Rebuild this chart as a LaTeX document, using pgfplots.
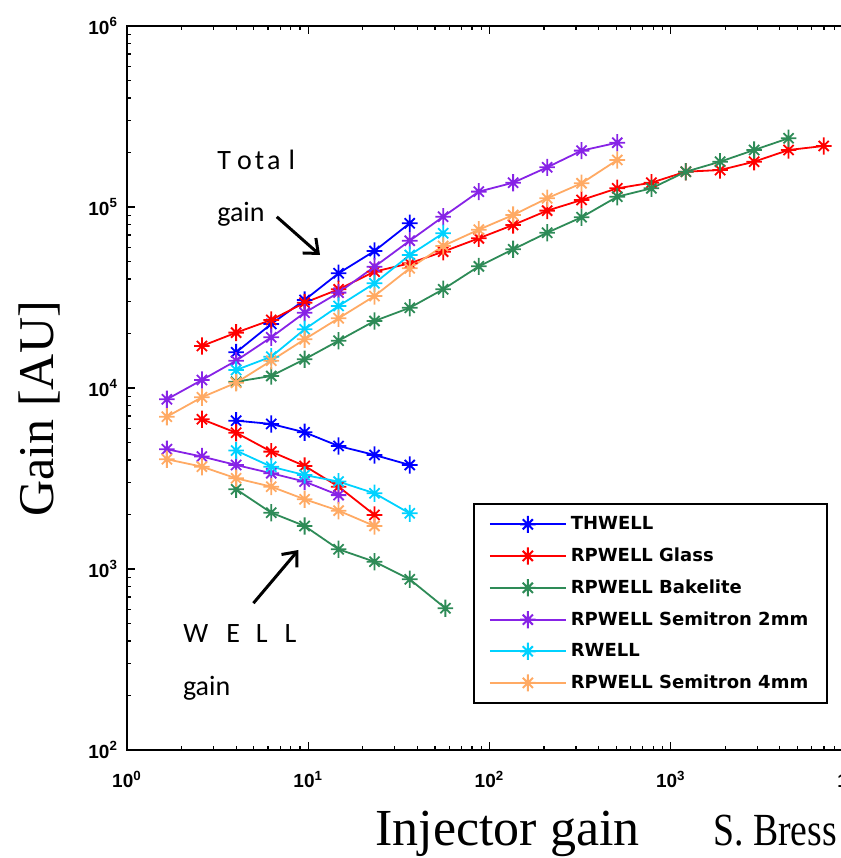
\documentclass[border=0pt]{standalone}
\usepackage{pgfplots}
\pgfplotsset{compat=1.18}
\usepackage{pgfplotstable}
\usepackage{fontspec}
\setmainfont{Liberation Serif}
\newfontfamily\arialfont{Liberation Sans}
\newfontfamily\legfont{DejaVu Sans}
\newfontfamily\calib{Carlito}
\usetikzlibrary{arrows.meta}

\definecolor{cthw}{RGB}{0,0,255}
\definecolor{cgla}{RGB}{255,0,0}
\definecolor{cbak}{RGB}{46,139,87}
\definecolor{csem}{RGB}{135,35,230}
\definecolor{crw}{RGB}{0,210,255}
\definecolor{csem4}{RGB}{255,170,100}

\pgfdeclareplotmark{ast8}{%
  \pgfpathmoveto{\pgfpoint{-\pgfplotmarksize}{0pt}}%
  \pgfpathlineto{\pgfpoint{\pgfplotmarksize}{0pt}}%
  \pgfpathmoveto{\pgfpoint{0pt}{-1.1\pgfplotmarksize}}%
  \pgfpathlineto{\pgfpoint{0pt}{1.1\pgfplotmarksize}}%
  \pgfpathmoveto{\pgfpoint{-.65\pgfplotmarksize}{-.65\pgfplotmarksize}}%
  \pgfpathlineto{\pgfpoint{.65\pgfplotmarksize}{.65\pgfplotmarksize}}%
  \pgfpathmoveto{\pgfpoint{-.65\pgfplotmarksize}{.65\pgfplotmarksize}}%
  \pgfpathlineto{\pgfpoint{.65\pgfplotmarksize}{-.65\pgfplotmarksize}}%
  \pgfusepathqstroke}

% ---------- data ----------
\pgfplotstableread{
x y
4.00 15740
6.25 22580
9.55 30630
14.7 43030
23.2 57130
36.3 81300
}\thwT
\pgfplotstableread{
x y
4.00 6600
6.25 6330
9.55 5690
14.7 4780
23.2 4265
36.3 3755
}\thwW
\pgfplotstableread{
x y
2.59 17060
4.00 20220
6.25 23770
9.55 29590
14.7 35090
23.2 43930
36.3 48850
55.5 56640
87.3 67140
135 79570
208 95450
322 109300
507 126800
782 136200
1211 156700
1871 160000
2884 177900
4467 206500
6982 217300
}\glaT
\pgfplotstableread{
x y
2.59 6720
4.00 5660
6.25 4450
9.55 3710
14.7 2850
23.2 1990
}\glaW
\pgfplotstableread{
x y
4.00 10830
6.25 11650
9.55 14410
14.7 18250
23.2 23450
36.3 27740
55.5 35090
87.3 47000
135 58360
208 72100
322 87730
507 114000
782 126800
1211 156700
1871 177900
2884 206500
4467 239800
}\bakT
\pgfplotstableread{
x y
4.00 2755
6.25 2047
9.55 1728
14.7 1285
23.2 1097
36.3 877
57.1 607
}\bakW
\pgfplotstableread{
x y
1.66 8660
2.59 11070
4.00 14150
6.25 19060
9.55 26060
14.7 33640
23.2 46770
36.3 65100
55.5 88400
87.3 121600
135 136200
208 165600
322 204800
507 226600
}\semT
\pgfplotstableread{
x y
1.66 4590
2.59 4180
4.00 3755
6.25 3380
9.55 3040
14.7 2560
}\semW
\pgfplotstableread{
x y
4.00 12570
6.25 14890
9.55 21100
14.7 28380
23.2 37870
36.3 54300
55.5 71600
}\rwT
\pgfplotstableread{
x y
4.00 4510
6.25 3675
9.55 3305
14.7 3040
23.2 2620
36.3 2030
}\rwW
\pgfplotstableread{
x y
1.66 6940
2.59 8890
4.00 10690
6.25 14150
9.55 18580
14.7 24270
23.2 32210
36.3 45840
55.5 60920
87.3 74950
135 90300
208 111700
322 135200
507 181900
}\semfT
\pgfplotstableread{
x y
1.66 4040
2.59 3675
4.00 3170
6.25 2850
9.55 2427
14.7 2100
23.2 1728
}\semfW

\newcommand{\tl}[1]{10\textsuperscript{#1}}

\begin{document}
\begin{tikzpicture}
\useasboundingbox (0,0) rectangle (420.5pt,429pt);
\begin{axis}[
  at={(63.5pt,54pt)}, anchor=south west,
  scale only axis, width=362.5pt, height=362pt,
  xmode=log, ymode=log,
  xmin=1, xmax=10000, ymin=100, ymax=1000000,
  xtick={1,10,100,1000,10000},
  xticklabels={\tl{0},\tl{1},\tl{2},\tl{3},\tl{4}},
  ytick={100,1000,10000,100000,1000000},
  yticklabels={\tl{2},\tl{3},\tl{4},\tl{5},\tl{6}},
  minor xtick={2,3,4,5,6,7,8,9,20,30,40,50,60,70,80,90,200,300,400,500,600,700,800,900,2000,3000,4000,5000,6000,7000,8000,9000},
  minor ytick={200,300,400,500,600,700,800,900,2000,3000,4000,5000,6000,7000,8000,9000,20000,30000,40000,50000,60000,70000,80000,90000,200000,300000,400000,500000,600000,700000,800000,900000},
  major tick length=4pt, minor tick length=2pt,
  tick style={black, line width=0.6pt},
  axis line style={line width=0.8pt},
  ticklabel style={font=\arialfont\bfseries\fontsize{9.5}{11}\selectfont},
  xticklabel style={yshift=-7pt},
  yticklabel style={xshift=-1pt},
  every axis plot/.append style={line width=0.9pt, mark=ast8, mark size=3.9pt},
  legend style={at={(rel axis cs:0.967,0.0635)}, anchor=south east,
    draw=black, line width=0.8pt,
    font=\legfont\bfseries\fontsize{9}{10}\selectfont,
    row sep=3.6pt, inner xsep=7.5pt, inner ysep=4pt},
  legend cell align=left,
  legend image code/.code={\draw[line width=1pt,mark repeat=2,mark phase=2,#1] plot coordinates {(0pt,0pt) (19pt,0pt) (38pt,0pt)};},
]
\addplot[color=cthw] table[x=x,y=y] {\thwT};
\addlegendentry{THWELL}
\addplot[color=cgla] table[x=x,y=y] {\glaT};
\addlegendentry{RPWELL Glass}
\addplot[color=cbak] table[x=x,y=y] {\bakT};
\addlegendentry{RPWELL Bakelite}
\addplot[color=csem] table[x=x,y=y] {\semT};
\addlegendentry{RPWELL Semitron 2mm}
\addplot[color=crw] table[x=x,y=y] {\rwT};
\addlegendentry{RWELL}
\addplot[color=csem4] table[x=x,y=y] {\semfT};
\addlegendentry{RPWELL Semitron 4mm}
\addplot[color=cthw, forget plot] table[x=x,y=y] {\thwW};
\addplot[color=cgla, forget plot] table[x=x,y=y] {\glaW};
\addplot[color=cbak, forget plot] table[x=x,y=y] {\bakW};
\addplot[color=csem, forget plot] table[x=x,y=y] {\semW};
\addplot[color=crw, forget plot] table[x=x,y=y] {\rwW};
\addplot[color=csem4, forget plot] table[x=x,y=y] {\semfW};
\end{axis}

% annotations (1 px = 0.5 pt, origin at bottom-left of picture)
\node[anchor=base west, inner sep=0pt, font=\calib\fontsize{14}{16}\selectfont] at (108.5pt,344pt) {T\kern3pt o\kern1.5pt t\kern1.5pt a\kern4pt l};
\node[anchor=base west, inner sep=0pt, font=\calib\fontsize{14}{16}\selectfont] at (108.5pt,318.2pt) {gain};
\draw[line width=1.5pt, -{Straight Barb[length=6pt,width=10pt]}] (138.4pt,320.6pt) -- (160pt,301.5pt);

\node[anchor=base west, inner sep=0pt, font=\calib\fontsize{14}{16}\selectfont] at (91.5pt,107.7pt) {W\kern9pt E\kern8pt L\kern8.5pt L};
\node[anchor=base west, inner sep=0pt, font=\calib\fontsize{14}{16}\selectfont] at (91.3pt,81pt) {gain};
\draw[line width=1.5pt, -{Straight Barb[length=6pt,width=10pt]}] (126.7pt,127.4pt) -- (149.2pt,154pt);

\node[anchor=base west, inner sep=0pt, rotate=90, font=\fontsize{25}{28}\selectfont] at (26.7pt,170.6pt) {Gain [AU]};
\node[anchor=base west, inner sep=0pt, font=\fontsize{26}{30}\selectfont] at (187.5pt,6.2pt) {Injector gain};
\node[anchor=base west, inner sep=0pt, xscale=0.82, font=\fontsize{23}{27}\selectfont] at (356.5pt,6pt) {S. Bress};
\end{tikzpicture}
\end{document}
